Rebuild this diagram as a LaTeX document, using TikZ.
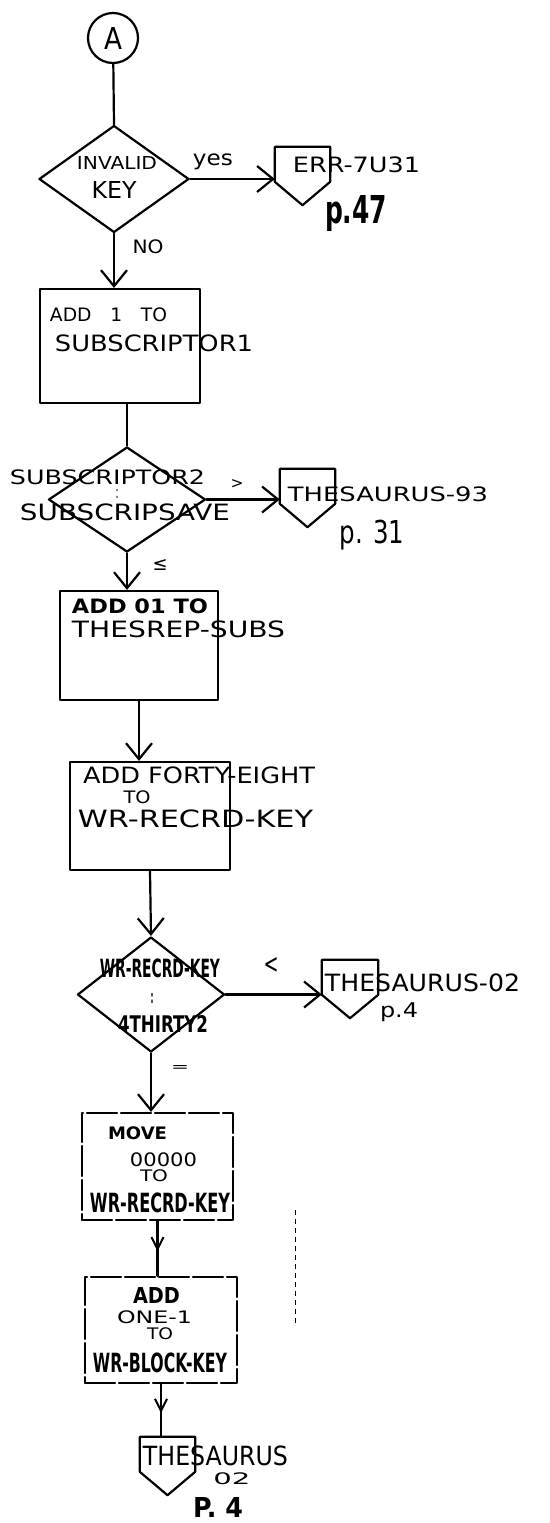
\documentclass[tikz,border=0pt]{standalone}
\usepackage{fontspec}
\setmainfont{DejaVu Sans}
\usetikzlibrary{shapes.geometric,arrows.meta,decorations.markings}
\newcommand\hwt[3]{\resizebox*{#1pt}{#2pt}{#3}}
\begin{document}
\begin{tikzpicture}[x=1pt,y=-1pt,
  ln/.style={line width=2.2pt, line join=round, line cap=round},
  box/.style={ln, draw, rectangle, inner sep=0pt},
  dec/.style={ln, draw, diamond, inner sep=0pt},
  dashedbox/.style={dash pattern=on 30pt off 4pt},
  offp/.style={rectangle, inner sep=0pt, minimum width=55pt, minimum height=58pt},
  txt/.style={inner sep=0pt, outer sep=0pt},
  btxt/.style={txt, font=\bfseries},
  arr/.style={ln, -{Straight Barb[length=16pt,width=26pt]}},
  marr/.style={ln, postaction={decorate}, decoration={markings, mark=at position 0.55 with {\arrow[line width=2pt]{Straight Barb[length=12pt,width=12pt]}}}},
  scan/.style={line width=1pt, dash pattern=on 5pt off 4pt}
]
\fill[white] (0,0) rectangle (549,1523);
\useasboundingbox (0,0) rectangle (549,1523);

% shapes
\node[circle, draw, ln, minimum size=50pt, inner sep=0pt] (A) at (113,38) {\hwt{18}{22}{A}};
\node[dec, minimum width=150pt, minimum height=107pt] (d1) at (114,179) {};
\node[box, minimum width=160pt, minimum height=114pt] (b1) at (120,346) {};
\node[dec, minimum width=157pt, minimum height=105pt] (d2) at (127,499.5) {};
\node[box, minimum width=158pt, minimum height=109pt] (b2) at (139,645.5) {};
\node[box, minimum width=160pt, minimum height=108pt] (b3) at (150,816) {};
\node[dec, minimum width=147pt, minimum height=115pt] (d3) at (151,994.5) {};
\node[box, dashedbox, minimum width=151pt, minimum height=107pt] (b4) at (157.5,1166.5) {};
\node[box, dashedbox, minimum width=152pt, minimum height=106pt] (b5) at (161,1330) {};

\node[offp] (o1) at (302.5,176) {};
\node[offp] (o2) at (307.5,498) {};
\node[offp, minimum width=56pt] (o3) at (350,989) {};
\node[offp] (o4) at (167.5,1466) {};
\foreach \o in {o1,o2,o3,o4}{
  \draw[ln] (\o.north west) -- (\o.north east) -- ([yshift=-35pt]\o.north east)
    -- (\o.south) -- ([yshift=-35pt]\o.north west) -- cycle;
}

% connectors
\draw[ln] (A) -- (d1.north);
\draw[arr] (d1.east) -- (d1.east -| o1.west);
\draw[arr] (d1.south) -- (d1.south |- b1.north);
\draw[ln] (d2.north |- b1.south) -- (d2.north);
\draw[arr] (d2.east) -- (d2.east -| o2.west);
\draw[arr] (d2.south) -- (d2.south |- b2.north);
\draw[arr] (b2.south) -- (b2.south |- b3.north);
\draw[arr] (b3.south) -- (d3.north);
\draw[arr] (d3.east) -- (d3.east -| o3.west);
\draw[arr] (d3.south) -- (d3.south |- b4.north);
\draw[marr] (b4.south) -- (b4.south |- b5.north);
\draw[marr] (b5.south) -- (b5.south |- o4.north);

% connector labels
\node[txt] (lyes) at (213,162) {\hwt{40}{16}{yes}};
\node[txt] (lno) at (148,247) {\hwt{31}{14}{NO}};
\node[txt] (lgt) at (237,484) {\hwt{13}{9}{>}};
\node[txt] (lle) at (160,565) {\hwt{15}{11}{≤}};
\node[txt] (llt) at (271,965) {\hwt{15}{16}{<}};
\node[txt] (leq) at (180,1068) {\hwt{18}{6}{=}};

% texts: decision 1
\node[txt] (t1a) at (117,163) {\hwt{80}{13}{INVALID}};
\node[txt] (t1b) at (114,190) {\hwt{45}{17}{KEY}};
% off-page 1
\node[txt] (t2a) at (356.5,165) {\hwt{127}{16}{ERR-7U31}};
\node[btxt] (t2b) at (356,213) {\hwt{62}{36}{p.47}};
% box 1
\node[txt] (t3a) at (108.5,315) {\hwt{117}{14}{ADD\quad 1\quad TO}};
\node[txt] (t3b) at (154,343) {\hwt{198}{17}{SUBSCRIPTOR1}};
% decision 2
\node[txt] (t4a) at (107.5,477) {\hwt{195}{15}{SUBSCRIPTOR2}};
\node[txt] (t4b) at (117,494) {\hwt{3}{9}{:}};
\node[txt] (t4c) at (125,512) {\hwt{210}{17}{SUBSCRIPSAVE}};
% off-page 2
\node[txt] (t5a) at (388,494) {\hwt{200}{15}{THESAURUS-93}};
\node[txt] (t5b) at (372,535) {\hwt{65}{30}{p. 31}};
% box 2
\node[btxt] (t6a) at (140,606) {\hwt{136}{15}{ADD 01 TO}};
\node[txt] (t6b) at (178.5,629) {\hwt{213}{17}{THESREP-SUBS}};
% box 3
\node[txt] (t7a) at (199,775) {\hwt{232}{17}{ADD FORTY-EIGHT}};
\node[txt] (t7b) at (137,797) {\hwt{27}{13}{TO}};
\node[txt] (t7c) at (195.5,819) {\hwt{235}{18}{WR-RECRD-KEY}};
% decision 3
\node[btxt] (t8a) at (160,968) {\hwt{120}{19}{WR-RECRD-KEY}};
\node[btxt] (t8b) at (152,998) {\hwt{3}{10}{:}};
\node[btxt] (t8c) at (163,1024) {\hwt{90}{17}{4THIRTY2}};
% off-page 3
\node[txt] (t9a) at (422.5,983) {\hwt{195}{18}{THESAURUS-02}};
\node[txt] (t9b) at (399,1012) {\hwt{38}{19}{p.4}};
% box 4
\node[btxt] (t10a) at (137.5,1133) {\hwt{59}{13}{MOVE}};
\node[txt] (t10b) at (163.5,1160) {\hwt{67}{14}{00000}};
\node[txt] (t10c) at (154,1176) {\hwt{28}{12}{TO}};
\node[btxt] (t10d) at (160,1203) {\hwt{140}{20}{WR-RECRD-KEY}};
% box 5
\node[btxt] (t11a) at (156.5,1295) {\hwt{47}{16}{ADD}};
\node[txt] (t11b) at (154.5,1317) {\hwt{75}{13}{ONE-1}};
\node[txt] (t11c) at (160,1334) {\hwt{26}{12}{TO}};
\node[btxt] (t11d) at (160,1363) {\hwt{134}{20}{WR-BLOCK-KEY}};
% off-page 4
\node[txt] (t12a) at (215.5,1456) {\hwt{145}{20}{THESAURUS}};
\node[txt] (t12b) at (232,1479) {\hwt{37}{12}{02}};
\node[btxt] (t12c) at (218,1507) {\hwt{50}{20}{P. 4}};

% scan mark
\draw[scan] (295,1210) -- (295,1323);
\end{tikzpicture}
\end{document}
